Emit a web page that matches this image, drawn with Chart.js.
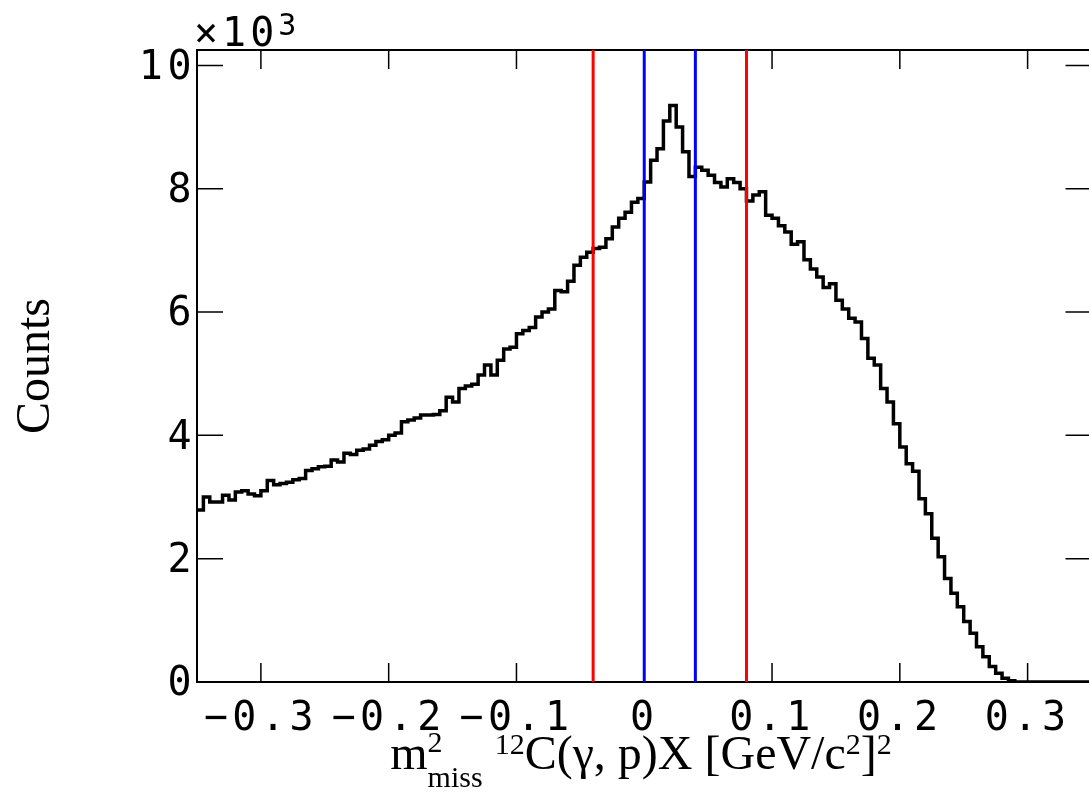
<!DOCTYPE html>
<html>
<head>
<meta charset="utf-8">
<title>Missing mass squared</title>
<script src="https://cdn.jsdelivr.net/npm/chart.js@4.4.1/dist/chart.umd.min.js"></script>
<style>
  html, body { margin: 0; padding: 0; background: #fff; overflow: hidden; }
  #wrap { position: relative; width: 1089px; height: 794px; overflow: hidden; }
  #hist { position: absolute; left: 0; top: 0; }
  #ymult {
    position: absolute; left: 194px; top: 12px;
    font: 40px "DejaVu Sans Mono"; letter-spacing: 4px; line-height: 40px; white-space: nowrap;
  }
  #ymult .e { position: relative; top: -11px; font-size: 30px; }
  #ytitle {
    position: absolute; left: -70px; top: 341px; width: 200px; height: 50px;
    line-height: 50px; text-align: center; font: 48px "Liberation Serif";
    transform: rotate(-90deg);
  }
  #xtitle {
    position: absolute; left: 194px; width: 894px; top: 729px;
    text-align: center; font: 48px "Liberation Serif"; line-height: 48px; white-space: nowrap;
  }
  #xtitle .sup { position: relative; top: -15px; font-size: 30px; }
  #xtitle .mstack { position: relative; font-size: 30px; }
  #xtitle .mstack .sub { position: relative; top: 18px; }
  #xtitle .mstack .up { position: absolute; left: 0; top: -24px; }
</style>
</head>
<body>
<div id="wrap">
  <canvas id="hist" width="1095" height="794"></canvas>
  <div id="ymult">×10<span class="e">3</span></div>
  <div id="ytitle">Counts</div>
  <div id="xtitle">m<span class="mstack"><span class="sub">miss</span><span class="up">2</span></span> <span class="sup">12</span>C(γ, p)X [GeV/c<span class="sup">2</span>]<span class="sup">2</span></div>
</div>
<script>
// histogram binning
const xMin = -0.35;
const xMax = 0.35;
const binWidth = 0.005;

// counts per bin (140 bins)
const counts = [
  2790, 3000, 2920, 2920, 3030, 2950, 3080, 3100, 3050, 3020,
  3100, 3270, 3200, 3220, 3240, 3280, 3300, 3430, 3460, 3490,
  3500, 3600, 3570, 3710, 3690, 3760, 3780, 3840, 3900, 3930,
  4000, 4040, 4220, 4250, 4280, 4330, 4330, 4340, 4400, 4620,
  4540, 4760, 4800, 4830, 4980, 5140, 4980, 5220, 5400, 5430,
  5650, 5700, 5750, 5920, 6000, 6050, 6350, 6330, 6500, 6760,
  6890, 6970, 7030, 7050, 7190, 7380, 7520, 7620, 7780, 7840,
  8110, 8460, 8650, 9100, 9350, 9000, 8600, 8200, 8350, 8300,
  8220, 8100, 8030, 8160, 8100, 8000, 7800, 7900, 7950, 7570,
  7520, 7400, 7300, 7100, 7140, 6850, 6700, 6570, 6400, 6460,
  6190, 6050, 5900, 5840, 5570, 5250, 5140, 4760, 4540, 4190,
  3810, 3540, 3420, 2970, 2730, 2330, 2030, 1680, 1440, 1220,
  980, 790, 570, 410, 250, 140, 60, 20, 0, 0,
  0, 0, 0, 0, 0, 0, 0, 0, 0, 0
];

// cut lines
const redCuts = [-0.04, 0.08];
const blueCuts = [0.0, 0.04];

// axes
const xTicks = [-0.3, -0.2, -0.1, 0, 0.1, 0.2, 0.3];
const yTicks = [0, 2000, 4000, 6000, 8000, 10000];
const yMax = 10250;

// step outline: each bin starts at its low edge, last point closes the top edge
const histPoints = counts.map((c, i) => ({ x: xMin + i * binWidth, y: c }));
histPoints.push({ x: xMax, y: counts[counts.length - 1] });

function cutLine(xv, color) {
    return {
        data: [{ x: xv, y: 0 }, { x: xv, y: yMax }],
        borderColor: color,
        borderWidth: 3,
        pointRadius: 0,
        order: 1
    };
}

function fmtX(v) {
    if (v === 0) return '0';
    return (v < 0 ? '\u2212' : '') + Math.abs(v).toFixed(1);
}

// wide spacing for the tick labels, then ROOT-style frame with inward ticks
// (drawn before the datasets so the cut lines sit on top)
const frameTicks = {
    id: 'frameTicks',
    beforeDraw(chart) { chart.ctx.letterSpacing = '4.5px'; },
    beforeDatasetsDraw(chart) {
        const { ctx, chartArea: a } = chart;
        const x = chart.scales.x, y = chart.scales.y;
        ctx.letterSpacing = '0px';
        ctx.save();
        ctx.strokeStyle = '#000';
        ctx.lineWidth = 2;
        ctx.beginPath();
        ctx.moveTo(a.left, a.top);
        ctx.lineTo(a.right, a.top);
        ctx.lineTo(a.right, a.bottom);
        ctx.stroke();
        ctx.lineWidth = 1.5;
        ctx.beginPath();
        x.ticks.forEach(t => {
            const px = x.getPixelForValue(t.value);
            ctx.moveTo(px, a.bottom); ctx.lineTo(px, a.bottom - 19);
            ctx.moveTo(px, a.top); ctx.lineTo(px, a.top + 19);
        });
        y.ticks.forEach(t => {
            const py = y.getPixelForValue(t.value);
            ctx.moveTo(a.left, py); ctx.lineTo(a.left + 26, py);
            ctx.moveTo(a.right, py); ctx.lineTo(a.right - 26, py);
        });
        ctx.stroke();
        ctx.restore();
    }
};

new Chart(document.getElementById('hist'), {
    type: 'line',
    data: {
        datasets: [
            cutLine(redCuts[0], 'rgb(255,0,0)'),
            cutLine(redCuts[1], 'rgb(255,0,0)'),
            cutLine(blueCuts[0], 'rgb(0,0,255)'),
            cutLine(blueCuts[1], 'rgb(0,0,255)'),
            {
                data: histPoints,
                stepped: true,
                borderColor: '#000',
                borderWidth: 3.5,
                pointRadius: 0,
                order: 2
            }
        ]
    },
    options: {
        responsive: false,
        animation: false,
        layout: { padding: { left: 0, top: 50, right: 3.5, bottom: 0 } },
        plugins: { legend: { display: false }, tooltip: { enabled: false } },
        scales: {
            x: {
                type: 'linear',
                min: xMin,
                max: xMax,
                afterBuildTicks: s => { s.ticks = xTicks.map(v => ({ value: v })); },
                afterFit: s => { s.height = 112; },
                grid: { display: false, drawTicks: false },
                border: { display: true, color: '#000', width: 2 },
                ticks: {
                    autoSkip: false,
                    maxRotation: 0,
                    padding: 14,
                    color: '#000',
                    font: { family: 'DejaVu Sans Mono', size: 40 },
                    callback: v => fmtX(v)
                }
            },
            y: {
                type: 'linear',
                min: 0,
                max: yMax,
                afterBuildTicks: s => { s.ticks = yTicks.map(v => ({ value: v })); },
                afterFit: s => { s.width = 197; },
                grid: { display: false, drawTicks: false },
                border: { display: true, color: '#000', width: 2 },
                ticks: {
                    padding: 1,
                    labelOffset: 3,
                    color: '#000',
                    font: { family: 'DejaVu Sans Mono', size: 40 },
                    callback: v => String(v / 1000)
                }
            }
        }
    },
    plugins: [frameTicks]
});
</script>
</body>
</html>
